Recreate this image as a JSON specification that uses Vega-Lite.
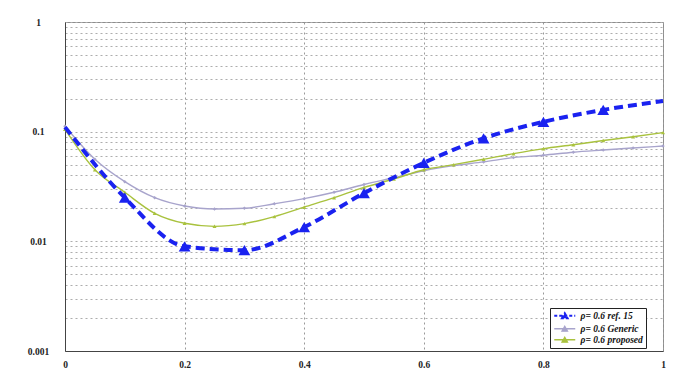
{
  "$schema": "https://vega.github.io/schema/vega-lite/v6.json",
  "autosize": {"type": "none"},
  "width": 598,
  "height": 329,
  "padding": {"left": 65, "top": 22, "right": 12, "bottom": 30},
  "background": "white",
  "config": {
    "view": {"stroke": "#8c8c8c", "strokeWidth": 1},
    "font": "Liberation Serif"
  },
  "data": {
    "values": [
      {"series": "ρ= 0.6 ref. 15", "x": 0.0, "y": 0.11},
      {"series": "ρ= 0.6 ref. 15", "x": 0.1, "y": 0.025},
      {"series": "ρ= 0.6 ref. 15", "x": 0.2, "y": 0.009},
      {"series": "ρ= 0.6 ref. 15", "x": 0.3, "y": 0.0083},
      {"series": "ρ= 0.6 ref. 15", "x": 0.4, "y": 0.0135},
      {"series": "ρ= 0.6 ref. 15", "x": 0.5, "y": 0.0275},
      {"series": "ρ= 0.6 ref. 15", "x": 0.6, "y": 0.052},
      {"series": "ρ= 0.6 ref. 15", "x": 0.7, "y": 0.087},
      {"series": "ρ= 0.6 ref. 15", "x": 0.8, "y": 0.123},
      {"series": "ρ= 0.6 ref. 15", "x": 0.9, "y": 0.158},
      {"series": "ρ= 0.6 ref. 15", "x": 1.0, "y": 0.19},
      {"series": "ρ= 0.6 Generic", "x": 0.0, "y": 0.112},
      {"series": "ρ= 0.6 Generic", "x": 0.05, "y": 0.056},
      {"series": "ρ= 0.6 Generic", "x": 0.1, "y": 0.035},
      {"series": "ρ= 0.6 Generic", "x": 0.15, "y": 0.025},
      {"series": "ρ= 0.6 Generic", "x": 0.2, "y": 0.021},
      {"series": "ρ= 0.6 Generic", "x": 0.25, "y": 0.0197},
      {"series": "ρ= 0.6 Generic", "x": 0.3, "y": 0.02},
      {"series": "ρ= 0.6 Generic", "x": 0.35, "y": 0.022},
      {"series": "ρ= 0.6 Generic", "x": 0.4, "y": 0.0245},
      {"series": "ρ= 0.6 Generic", "x": 0.45, "y": 0.028},
      {"series": "ρ= 0.6 Generic", "x": 0.5, "y": 0.033},
      {"series": "ρ= 0.6 Generic", "x": 0.55, "y": 0.038},
      {"series": "ρ= 0.6 Generic", "x": 0.6, "y": 0.044},
      {"series": "ρ= 0.6 Generic", "x": 0.65, "y": 0.049},
      {"series": "ρ= 0.6 Generic", "x": 0.7, "y": 0.053},
      {"series": "ρ= 0.6 Generic", "x": 0.75, "y": 0.058},
      {"series": "ρ= 0.6 Generic", "x": 0.8, "y": 0.061},
      {"series": "ρ= 0.6 Generic", "x": 0.85, "y": 0.065},
      {"series": "ρ= 0.6 Generic", "x": 0.9, "y": 0.068},
      {"series": "ρ= 0.6 Generic", "x": 0.95, "y": 0.071},
      {"series": "ρ= 0.6 Generic", "x": 1.0, "y": 0.074},
      {"series": "ρ= 0.6 proposed", "x": 0.0, "y": 0.105},
      {"series": "ρ= 0.6 proposed", "x": 0.05, "y": 0.045},
      {"series": "ρ= 0.6 proposed", "x": 0.1, "y": 0.028},
      {"series": "ρ= 0.6 proposed", "x": 0.15, "y": 0.018},
      {"series": "ρ= 0.6 proposed", "x": 0.2, "y": 0.0146},
      {"series": "ρ= 0.6 proposed", "x": 0.25, "y": 0.0137},
      {"series": "ρ= 0.6 proposed", "x": 0.3, "y": 0.0145},
      {"series": "ρ= 0.6 proposed", "x": 0.35, "y": 0.0168},
      {"series": "ρ= 0.6 proposed", "x": 0.4, "y": 0.0205},
      {"series": "ρ= 0.6 proposed", "x": 0.45, "y": 0.025},
      {"series": "ρ= 0.6 proposed", "x": 0.5, "y": 0.031},
      {"series": "ρ= 0.6 proposed", "x": 0.55, "y": 0.037},
      {"series": "ρ= 0.6 proposed", "x": 0.6, "y": 0.045},
      {"series": "ρ= 0.6 proposed", "x": 0.65, "y": 0.05},
      {"series": "ρ= 0.6 proposed", "x": 0.7, "y": 0.056},
      {"series": "ρ= 0.6 proposed", "x": 0.75, "y": 0.063},
      {"series": "ρ= 0.6 proposed", "x": 0.8, "y": 0.07},
      {"series": "ρ= 0.6 proposed", "x": 0.85, "y": 0.076},
      {"series": "ρ= 0.6 proposed", "x": 0.9, "y": 0.083},
      {"series": "ρ= 0.6 proposed", "x": 0.95, "y": 0.09},
      {"series": "ρ= 0.6 proposed", "x": 1.0, "y": 0.098}
    ]
  },
  "encoding": {
    "x": {
      "field": "x", "type": "quantitative",
      "scale": {"domain": [0, 1], "nice": false},
      "axis": {
        "title": null,
        "values": [0, 0.2, 0.4, 0.6, 0.8, 1],
        "format": "~g",
        "ticks": false,
        "labelPadding": 8,
        "labelFont": "Liberation Serif",
        "labelFontWeight": "bold",
        "labelFontSize": 9.5,
        "labelColor": "#222222",
        "labelFlush": false,
        "domainColor": "#444444",
        "grid": true,
        "gridColor": "#999999",
        "gridDash": [2, 3],
        "gridWidth": 1
      }
    },
    "y": {
      "field": "y", "type": "quantitative",
      "scale": {"type": "log", "domain": [0.001, 1], "nice": false},
      "axis": {
        "title": null,
        "values": [0.001, 0.002, 0.003, 0.004, 0.005, 0.006, 0.007, 0.008, 0.009, 0.01, 0.02, 0.03, 0.04, 0.05, 0.06, 0.07, 0.08, 0.09, 0.1, 0.2, 0.3, 0.4, 0.5, 0.6, 0.7, 0.8, 0.9, 1],
        "format": "~g",
        "labelExpr": "indexof(['0.001','0.01','0.1','1'], datum.label) >= 0 ? datum.label : ''",
        "ticks": false,
        "labelAlign": "center",
        "labelPadding": 27,
        "labelFont": "Liberation Serif",
        "labelFontWeight": "bold",
        "labelFontSize": 9.5,
        "labelColor": "#222222",
        "domainColor": "#444444",
        "grid": true,
        "gridColor": "#adadad",
        "gridDash": [2, 3],
        "gridWidth": 1
      }
    }
  },
  "layer": [
    {
      "transform": [{"filter": "datum.series !== 'ρ= 0.6 ref. 15'"}],
      "mark": {"type": "line", "interpolate": "monotone", "strokeWidth": 1.4},
      "encoding": {
        "color": {
          "field": "series", "type": "nominal",
          "scale": {"domain": ["ρ= 0.6 ref. 15", "ρ= 0.6 Generic", "ρ= 0.6 proposed"], "range": ["#1a22f0", "#a8a4cc", "#a9c23e"]},
          "legend": {
            "title": null,
            "orient": "none",
            "legendX": 485,
            "legendY": 286,
            "direction": "vertical",
            "strokeColor": "#222222",
            "fillColor": "white",
            "padding": 3,
            "rowPadding": 0,
            "labelOffset": 18,
            "labelFont": "Liberation Serif",
            "labelFontStyle": "italic",
            "labelFontWeight": "bold",
            "labelFontSize": 9.5,
            "labelColor": "#111111",
            "symbolType": "M-1,0H5M1.2,0.7L2,-0.7L2.8,0.7Z",
            "symbolSize": 49,
            "symbolStrokeWidth": 1.5,
            "encode": {
              "symbols": {
                "update": {
                  "shape": {"value": "M-1,0H5M1.2,0.7L2,-0.7L2.8,0.7Z"},
                  "size": {"value": 49},
                  "fill": {"scale": "color", "field": "value"},
                  "stroke": {"scale": "color", "field": "value"},
                  "strokeDash": {"signal": "datum.value === 'ρ= 0.6 ref. 15' ? [3, 2] : [1, 0]"},
                  "strokeWidth": {"signal": "datum.value === 'ρ= 0.6 ref. 15' ? 2 : 1.3"},
                  "opacity": {"value": 1}
                }
              }
            }
          }
        }
      }
    },
    {
      "transform": [{"filter": "datum.series === 'ρ= 0.6 Generic'"}],
      "mark": {"type": "point", "filled": true, "opacity": 1, "size": 12, "shape": "diamond"},
      "encoding": {
        "color": {"field": "series", "type": "nominal", "legend": null}
      }
    },
    {
      "transform": [{"filter": "datum.series === 'ρ= 0.6 proposed'"}],
      "mark": {"type": "point", "filled": true, "opacity": 1, "size": 16, "shape": "triangle-up"},
      "encoding": {
        "color": {"field": "series", "type": "nominal", "legend": null}
      }
    },
    {
      "transform": [{"filter": "datum.series === 'ρ= 0.6 ref. 15'"}],
      "mark": {"type": "line", "interpolate": "monotone", "strokeWidth": 4, "strokeDash": [9, 5]},
      "encoding": {
        "color": {"field": "series", "type": "nominal", "legend": null}
      }
    },
    {
      "transform": [{"filter": "datum.series === 'ρ= 0.6 ref. 15' && datum.x > 0.05 && datum.x < 0.95"}],
      "mark": {"type": "point", "filled": true, "opacity": 1, "shape": "triangle-up", "size": 140},
      "encoding": {
        "color": {"field": "series", "type": "nominal", "legend": null}
      }
    }
  ]
}
